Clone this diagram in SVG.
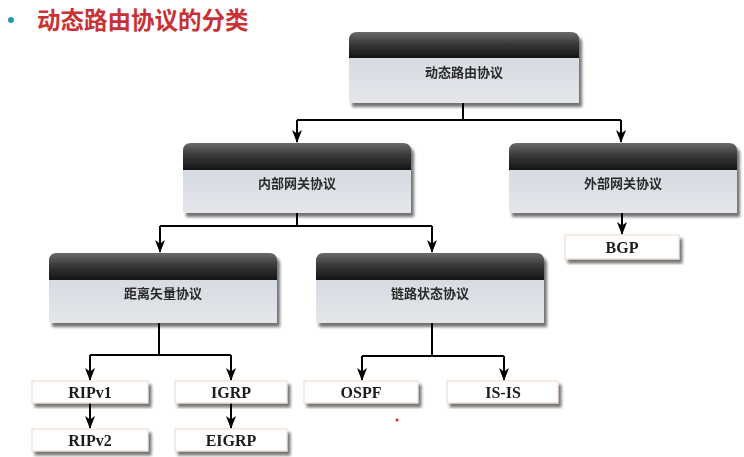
<svg xmlns="http://www.w3.org/2000/svg" width="744" height="457" viewBox="0 0 744 457">
<defs>
<linearGradient id="hdr" x1="0" y1="0" x2="0" y2="1">
<stop offset="0" stop-color="#6a6a6a"/><stop offset="0.45" stop-color="#3a3a3a"/><stop offset="1" stop-color="#141414"/>
</linearGradient>
<linearGradient id="body" x1="0" y1="0" x2="0" y2="1">
<stop offset="0" stop-color="#d6dbe2"/><stop offset="1" stop-color="#e4e6ea"/>
</linearGradient>
<filter id="sh" x="-10%" y="-10%" width="125%" height="135%">
<feGaussianBlur in="SourceAlpha" stdDeviation="1.8"/>
<feOffset dx="3" dy="4" result="b"/>
<feComponentTransfer><feFuncA type="linear" slope="0.55"/></feComponentTransfer>
<feMerge><feMergeNode/><feMergeNode in="SourceGraphic"/></feMerge>
</filter>
<marker id="ad" viewBox="0 0 10 13" refX="5" refY="12" markerWidth="10" markerHeight="13" markerUnits="userSpaceOnUse" orient="0">
<path d="M0,0 L5,3.5 L10,0 L5,13 Z" fill="#000"/>
</marker>
</defs>
<style>
.hdr{fill:url(#hdr)}
.body{fill:url(#body)}
.cn{font-family:"Noto Sans CJK SC","Noto Sans",sans-serif;font-size:13px;font-weight:bold;fill:#2a2a2a;text-anchor:middle}
.leaf{fill:#fff;stroke:#ecd8cc;stroke-width:1}
.lt{font-family:"Liberation Serif",serif;font-size:16px;font-weight:bold;fill:#1a1a1a;text-anchor:middle}
.ln{fill:none;stroke:#000;stroke-width:2}
</style>
<rect width="744" height="457" fill="#fff"/>
<g id="title">
<circle cx="11" cy="20" r="3" fill="#2a9aa6"/>
<text x="37" y="29" font-family="Noto Sans CJK SC,sans-serif" font-size="23.5" font-weight="bold" fill="#c83234">动态路由协议的分类</text>
</g>
<g id="connectors">
<path class="ln" d="M463,103 V120"/>
<path class="ln" d="M297,120 H621"/>
<path class="ln" d="M297,120 V142" marker-end="url(#ad)"/>
<path class="ln" d="M621,120 V142" marker-end="url(#ad)"/>
<path class="ln" d="M297,213 V226"/>
<path class="ln" d="M160,226 H432"/>
<path class="ln" d="M160,226 V252" marker-end="url(#ad)"/>
<path class="ln" d="M432,226 V252" marker-end="url(#ad)"/>
<path class="ln" d="M622,213 V234" marker-end="url(#ad)"/>
<path class="ln" d="M159,323 V355"/>
<path class="ln" d="M90,355 H231"/>
<path class="ln" d="M90,355 V380" marker-end="url(#ad)"/>
<path class="ln" d="M231,355 V380" marker-end="url(#ad)"/>
<path class="ln" d="M432,323 V356"/>
<path class="ln" d="M362,356 H504"/>
<path class="ln" d="M362,356 V380" marker-end="url(#ad)"/>
<path class="ln" d="M504,356 V380" marker-end="url(#ad)"/>
<path class="ln" d="M90,403 V428" marker-end="url(#ad)"/>
<path class="ln" d="M231,403 V428" marker-end="url(#ad)"/>
</g>
<g id="n-dynamic" filter="url(#sh)">
<path class="hdr" d="M349,58 V40 Q349,32 357,32 H571 Q579,32 579,40 V58 Z"/>
<rect class="body" x="349" y="58" width="230" height="45"/>
<text class="cn" x="464" y="77">动态路由协议</text>
</g>
<g id="n-igp" filter="url(#sh)">
<path class="hdr" d="M183,170 V151 Q183,143 191,143 H403 Q411,143 411,151 V170 Z"/>
<rect class="body" x="183" y="170" width="228" height="43"/>
<text class="cn" x="297" y="188">内部网关协议</text>
</g>
<g id="n-egp" filter="url(#sh)">
<path class="hdr" d="M509,170 V151 Q509,143 517,143 H729 Q737,143 737,151 V170 Z"/>
<rect class="body" x="509" y="170" width="228" height="43"/>
<text class="cn" x="623" y="188">外部网关协议</text>
</g>
<g id="n-dv" filter="url(#sh)">
<path class="hdr" d="M49,280 V261 Q49,253 57,253 H269 Q277,253 277,261 V280 Z"/>
<rect class="body" x="49" y="280" width="228" height="43"/>
<text class="cn" x="163" y="298">距离矢量协议</text>
</g>
<g id="n-ls" filter="url(#sh)">
<path class="hdr" d="M316,280 V261 Q316,253 324,253 H536 Q544,253 544,261 V280 Z"/>
<rect class="body" x="316" y="280" width="228" height="43"/>
<text class="cn" x="430" y="298">链路状态协议</text>
</g>
<g id="n-bgp" filter="url(#sh)">
<rect class="leaf" x="565" y="235" width="114" height="24"/>
<text class="lt" x="622" y="253">BGP</text>
</g>
<g id="n-ripv1" filter="url(#sh)">
<rect class="leaf" x="32" y="381" width="116" height="22"/>
<text class="lt" x="90" y="398">RIPv1</text>
</g>
<g id="n-igrp" filter="url(#sh)">
<rect class="leaf" x="175" y="381" width="112" height="22"/>
<text class="lt" x="231" y="398">IGRP</text>
</g>
<g id="n-ripv2" filter="url(#sh)">
<rect class="leaf" x="32" y="429" width="116" height="22"/>
<text class="lt" x="90" y="446">RIPv2</text>
</g>
<g id="n-eigrp" filter="url(#sh)">
<rect class="leaf" x="175" y="429" width="112" height="22"/>
<text class="lt" x="231" y="446">EIGRP</text>
</g>
<g id="n-ospf" filter="url(#sh)">
<rect class="leaf" x="304" y="381" width="114" height="22"/>
<text class="lt" x="361" y="398">OSPF</text>
</g>
<g id="n-isis" filter="url(#sh)">
<rect class="leaf" x="447" y="381" width="111" height="22"/>
<text class="lt" x="503" y="398">IS-IS</text>
</g>
<circle cx="397" cy="420" r="1.5" fill="#e02020"/>
</svg>
